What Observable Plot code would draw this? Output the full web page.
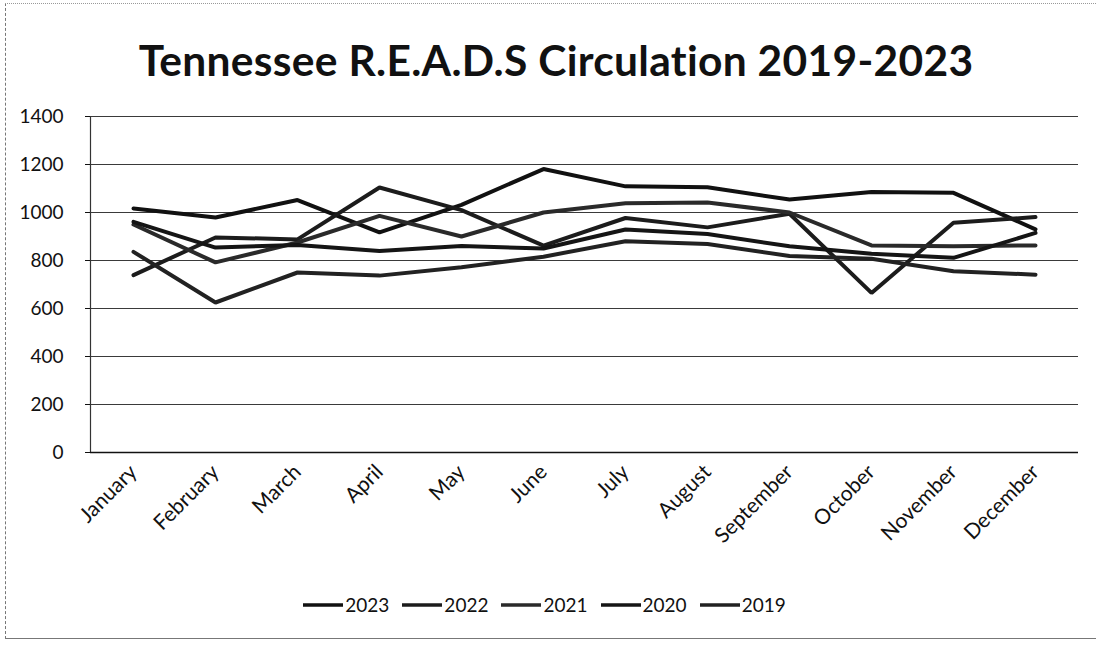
<!DOCTYPE html>
<html>
<head>
<meta charset="utf-8">
<script src="https://cdn.jsdelivr.net/npm/d3@7"></script>
<script src="https://cdn.jsdelivr.net/npm/@observablehq/plot@0.6"></script>
<style>
  html, body { margin: 0; padding: 0; background: #fff; }
  body { width: 1100px; height: 648px; position: relative; overflow: hidden; font-family: Lato, "Open Sans", sans-serif; color: #111; }
  #frame { position: absolute; left: 5px; top: 3px; width: 1090px; height: 634px; border-left: 1px dashed #777; border-top: 1px dotted #999; border-bottom: 1px solid #777; }
  #title { position: absolute; left: 0; top: 0; width: 1112px; height: 95px; text-align: center; font-weight: bold; font-size: 42.5px; line-height: 120px; letter-spacing: 0.3px; }
  #chart { position: absolute; left: 0; top: 95px; }
  #legend { position: absolute; left: 0; top: 593px; width: 1088px; display: flex; justify-content: center; align-items: center; font-size: 19px; }
  .item { display: flex; align-items: center; margin: 0 6px; }
  .item svg { margin-right: 1px; }
</style>
</head>
<body>
<div id="frame"></div>
<div id="title">Tennessee R.E.A.D.S Circulation 2019-2023</div>
<div id="chart"></div>
<div id="legend"></div>
<script>
const months = ["January","February","March","April","May","June","July","August","September","October","November","December"];
const years = ["2023","2022","2021","2020","2019"];
const v2023 = [1017, 979, 1052, 917, 1032, 1181, 1109, 1105, 1054, 1085, 1082, 930];
const v2022 = [739, 896, 888, 1104, 1010, 862, 977, 938, 995, 665, 957, 981];
const v2021 = [950, 792, 875, 986, 900, 1000, 1039, 1042, 1000, 863, 859, 863];
const v2020 = [961, 854, 865, 840, 860, 850, 929, 910, 859, 828, 811, 915];
const v2019 = [836, 625, 750, 737, 772, 816, 880, 869, 819, 807, 755, 741];
const yTicks = [0, 200, 400, 600, 800, 1000, 1200, 1400];

const seriesValues = {"2023": v2023, "2022": v2022, "2021": v2021, "2020": v2020, "2019": v2019};
const colors = ["#111", "#1c1c1c", "#2a2a2a", "#151515", "#222"];
const data = years.flatMap(y => months.map((m, i) => ({year: y, month: m, value: seriesValues[y][i]})));

const chart = Plot.plot({
  width: 1100,
  height: 452,
  marginLeft: 90,
  marginRight: 22,
  marginTop: 21,
  marginBottom: 95,
  style: {fontFamily: "Lato, 'Open Sans', sans-serif", fontSize: "19px", color: "#111", background: "transparent"},
  x: {type: "point", domain: months, padding: 0.5, label: null},
  y: {domain: [0, 1400], ticks: yTicks, label: null},
  color: {domain: years, range: colors},
  marks: [
    Plot.ruleY(yTicks, {stroke: "#3a3a3a", strokeWidth: 1.1}),
    Plot.frame({anchor: "left", stroke: "#333", strokeWidth: 1.2}),
    Plot.ruleY([0], {stroke: "#111", strokeWidth: 1.5}),
    Plot.axisY({ticks: yTicks, tickSize: 5, tickPadding: 22, fontSize: 19, tickFormat: d => String(d), label: null}),
    Plot.axisX({tickRotate: -45, tickSize: 0, tickPadding: 16, fontSize: 21, label: null}),
    Plot.line(data, {x: "month", y: "value", z: "year", stroke: "year", strokeWidth: 4, strokeLinejoin: "miter"})
  ]
});
document.getElementById("chart").appendChild(chart);

const legend = document.getElementById("legend");
years.forEach((y, i) => {
  const it = document.createElement("div");
  it.className = "item";
  it.innerHTML = `<svg width="42" height="8"><line x1="1" y1="4" x2="41" y2="4" stroke="${colors[i]}" stroke-width="3.6"/></svg><span>${y}</span>`;
  legend.appendChild(it);
});
</script>
</body>
</html>
